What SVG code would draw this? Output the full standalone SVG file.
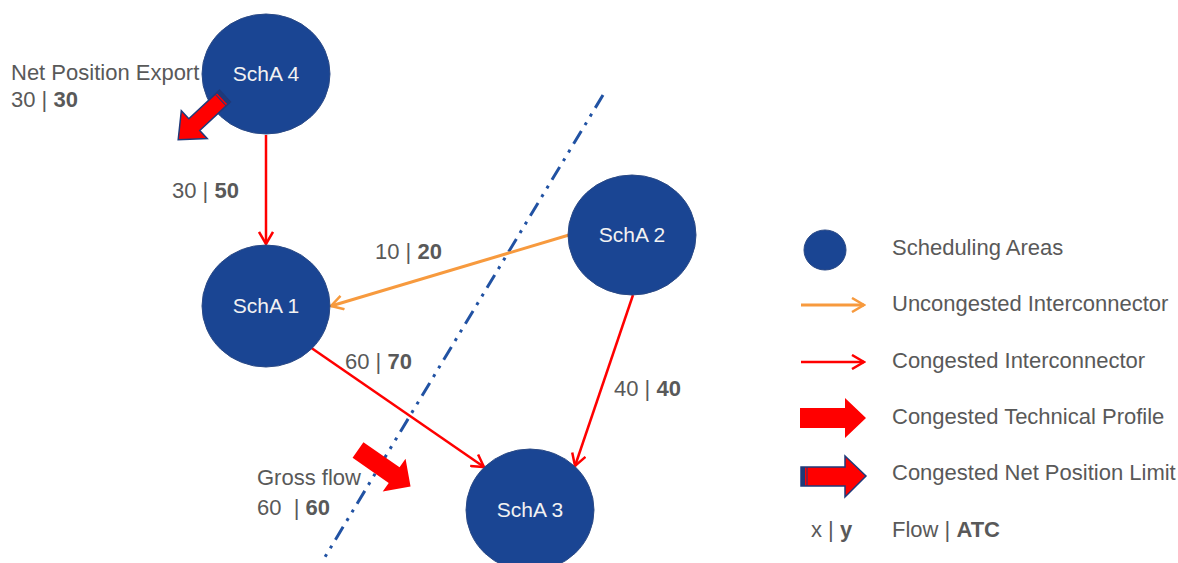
<svg xmlns="http://www.w3.org/2000/svg" width="1178" height="563" viewBox="0 0 1178 563">
<defs>
<style>
.node{fill:#1A4593;stroke:#2B4A86;stroke-width:1}
.nlabel{font-family:"Liberation Sans",Arial,sans-serif;font-size:21px;fill:#F2F2F2;text-anchor:middle}
.lbl{font-family:"Liberation Sans",Arial,sans-serif;font-size:22px;fill:#595959}
.b{font-weight:bold}
.red{stroke:#FF0000;stroke-width:2.5;fill:none}
.org{stroke:#F79A3E;stroke-width:3;fill:none}
.block{fill:#FF0000}
</style>
<marker id="ar" markerUnits="userSpaceOnUse" markerWidth="16" markerHeight="16" viewBox="0 0 16 16" refX="14" refY="8" orient="auto">
<path d="M2,1 L14,8 L2,15" fill="none" stroke="#FF0000" stroke-width="2.5"/>
</marker>
<marker id="ao" markerUnits="userSpaceOnUse" markerWidth="16" markerHeight="16" viewBox="0 0 16 16" refX="14" refY="8" orient="auto">
<path d="M2,1 L14,8 L2,15" fill="none" stroke="#F79A3E" stroke-width="2.5"/>
</marker>
</defs>
<rect width="1178" height="563" fill="#FFFFFF"/>

<g id="cut-line">
<line x1="603" y1="95" x2="322" y2="562" stroke="#2152A3" stroke-width="3" stroke-dasharray="15 7 3 7 3 7"/>
</g>

<g id="connectors">
<line class="red" x1="266" y1="135" x2="266" y2="244" marker-end="url(#ar)"/>
<line class="org" x1="569" y1="235" x2="331" y2="306" stroke-width="2.5" marker-end="url(#ao)"/>
<line class="red" x1="310" y1="347" x2="484" y2="467" marker-end="url(#ar)"/>
<line class="red" x1="633" y1="295" x2="575" y2="466" marker-end="url(#ar)"/>
</g>

<g id="node-scha4">
<ellipse class="node" cx="266" cy="74" rx="64" ry="60"/>
<text class="nlabel" x="266" y="81">SchA 4</text>
</g>
<g id="node-scha1">
<ellipse class="node" cx="266" cy="306" rx="64" ry="61"/>
<text class="nlabel" x="266" y="313">SchA 1</text>
</g>
<g id="node-scha2">
<ellipse class="node" cx="632" cy="235" rx="64" ry="60"/>
<text class="nlabel" x="632" y="242">SchA 2</text>
</g>
<g id="node-scha3">
<ellipse class="node" cx="530" cy="510" rx="64" ry="61"/>
<text class="nlabel" x="530" y="517">SchA 3</text>
</g>

<g id="net-position-export">
<g transform="translate(225,96) rotate(137)">
<path d="M0,-8 L42,-8 L42,-19 L64,0 L42,19 L42,8 L0,8 Z" fill="#FF0000" stroke="#1F3A7A" stroke-width="1.5"/>
<rect x="0" y="-8" width="4" height="16" fill="#1F3A7A"/>
<line x1="6" y1="-8" x2="6" y2="8" stroke="#1F3A7A" stroke-width="1"/>
</g>
<text class="lbl" x="11" y="80">Net Position Export</text>
<text class="lbl" x="11" y="107">30 | <tspan class="b">30</tspan></text>
</g>

<g id="gross-flow">
<g transform="translate(358,450) rotate(34.8)">
<path class="block" d="M0,-9.5 L44,-9.5 L44,-20 L64,0 L44,20 L44,9.5 L0,9.5 Z"/>
</g>
<text class="lbl" x="257" y="485">Gross flow</text>
<text class="lbl" x="257" y="515">60&#160; | <tspan class="b">60</tspan></text>
</g>

<g id="edge-labels">
<text class="lbl" x="172" y="198">30 | <tspan class="b">50</tspan></text>
<text class="lbl" x="375" y="259">10 | <tspan class="b">20</tspan></text>
<text class="lbl" x="345" y="369">60 | <tspan class="b">70</tspan></text>
<text class="lbl" x="614" y="396">40 | <tspan class="b">40</tspan></text>
</g>

<g id="legend">
<ellipse class="node" cx="825" cy="250" rx="21" ry="20"/>
<text class="lbl" x="892" y="255">Scheduling Areas</text>
<line class="org" x1="801" y1="305" x2="864" y2="305" stroke-width="2.5" marker-end="url(#ao)"/>
<text class="lbl" x="892" y="311">Uncongested Interconnector</text>
<line class="red" x1="801" y1="362" x2="864" y2="362" marker-end="url(#ar)"/>
<text class="lbl" x="892" y="368">Congested Interconnector</text>
<path class="block" d="M800,408 L845,408 L845,398 L866,418 L845,438 L845,428 L800,428 Z"/>
<text class="lbl" x="892" y="424">Congested Technical Profile</text>
<path d="M801,467 L845,467 L845,456 L866,476 L845,497 L845,486 L801,486 Z" fill="#FF0000" stroke="#1F3A7A" stroke-width="1.5"/>
<rect x="801" y="467" width="4" height="19" fill="#1F3A7A"/>
<line x1="807" y1="467" x2="807" y2="486" stroke="#1F3A7A" stroke-width="1"/>
<text class="lbl" x="892" y="480">Congested Net Position Limit</text>
<text class="lbl" x="811" y="537">x | <tspan class="b">y</tspan></text>
<text class="lbl" x="892" y="537">Flow | <tspan class="b">ATC</tspan></text>
</g>
</svg>
